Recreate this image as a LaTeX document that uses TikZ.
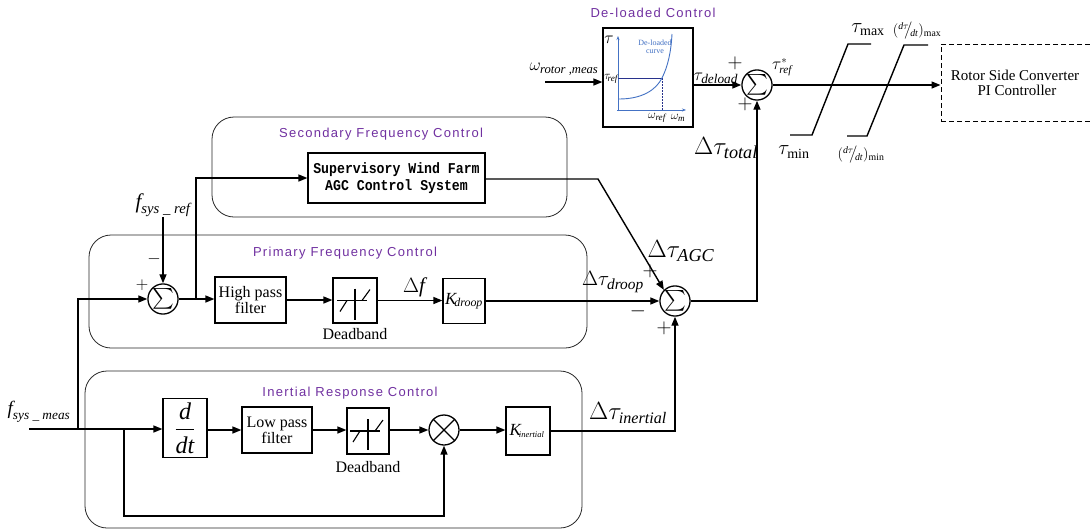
\documentclass[tikz,border=0pt]{standalone}
\usepackage{amsmath}
\usepackage{graphicx}
\usepackage{fontspec}
\setmainfont{Liberation Serif}
\newfontfamily\ttlfont[LetterSpace=10]{Liberation Sans}
\newfontfamily\supfont{Liberation Mono}
\usetikzlibrary{arrows.meta,calc}
\definecolor{ttlpurple}{RGB}{112,48,160}
\definecolor{crvblue}{RGB}{68,114,196}
\definecolor{refblue}{RGB}{40,50,140}
\newcommand{\fsz}[1]{\fontsize{#1}{#1}\selectfont}
\newcommand{\tx}[1]{\text{\itshape #1}}
\newcommand{\rx}[1]{\text{\upshape #1}}
\tikzset{
 arr/.style={line width=1.4pt,-{Triangle[length=9pt,width=7pt]}},
 ln/.style={line width=1.4pt},
 blk/.style={draw,line width=1.2pt,align=center,inner sep=0pt,font=\fsz{16}},
 sumc/.style={draw,circle,line width=1.3pt,minimum size=28pt,inner sep=0pt},
 grp/.style={draw=black!85,line width=0.8pt,rounded corners=22pt},
 ttl/.style={text=ttlpurple,font=\ttlfont\fsz{13}},
 lbl/.style={inner sep=0pt},
 dbsym/.pic={
   \draw[line width=1.1pt] (0,-12) -- (0,19);
   \draw[line width=1.1pt] (-18,0) -- (12,0);
   \draw[line width=1.1pt] (-15,11) -- (-8,0);
   \draw[line width=1.1pt] (7,0) -- (15,-11);
 }
}
\begin{document}
\begin{tikzpicture}[x=1pt,y=-1pt]
\useasboundingbox (0,0) rectangle (1090,531);

% group boxes
\node[grp,minimum width=355,minimum height=100] (secg) at (389.5,167) {};
\node[grp,minimum width=498,minimum height=113] (prig) at (338,291.5) {};
\node[grp,minimum width=497,minimum height=157] (inrg) at (333.5,449.5) {};
\node[ttl] (sect) at (381,134) {Secondary Frequency Control};
\node[ttl] (prit) at (345,253) {Primary Frequency Control};
\node[ttl] (inrt) at (350,393) {Inertial Response Control};
\node[ttl] (dlt) at (653,13) {De-loaded Control};

% de-loaded block
\node[draw,line width=1.2pt,minimum width=90,minimum height=99,fill=white] (dl) at (648,77.5) {};
\draw[crvblue,line width=0.9pt,-{Stealth[length=4pt,width=3pt]}] (618,111) -- (618,36);
\draw[crvblue,line width=0.9pt,-{Stealth[length=4pt,width=3pt]}] (617,110) -- (686,110);
\draw[refblue,line width=0.8pt] (618,78) -- (662,78);
\draw[refblue,line width=0.8pt,dashed,dash pattern=on 2pt off 1pt] (662,78) -- (662,110);
\draw[crvblue,line width=0.9pt] (619,99) .. controls (642,99) and (656,90) .. (662,78) .. controls (668,66) and (671,52) .. (672,34);
\node[lbl,text=crvblue,font=\fsz{8},align=center] (dlc) at (655,47) {De-loaded\\curve};
\node[lbl,font=\fsz{16}] (dltau) at (609,40) {$\tau$};
\node[lbl,font=\fsz{13}] (dltref) at (611,79) {$\tau_{\!\tx{ref}}$};
\node[lbl,font=\fsz{13}] (dlwref) at (657,118) {$\omega_{\tx{ref}}$};
\node[lbl,font=\fsz{13}] (dlwm) at (678,118) {$\omega_{\tx{m}}$};

% sums and blocks
\node[sumc,font=\fsz{21}] (s1) at (757,85) {$\textstyle\sum$};
\node[sumc,font=\fsz{21}] (s2) at (675,301) {$\textstyle\sum$};
\node[sumc,font=\fsz{21}] (s0) at (163,299) {$\textstyle\sum$};
\node[draw,line width=1pt,dash pattern=on 5pt off 3pt,minimum width=152,minimum height=77,align=center,font=\rmfamily\fsz{15},inner xsep=0pt] (rsc) at (1017,82.5) {\hspace*{-4pt}Rotor Side Converter\\PI Controller};
\node[blk,minimum width=177,minimum height=50,font=\supfont\bfseries\fsz{15}] (sup) at (396.5,178) {\scalebox{0.88}[1]{Supervisory Wind Farm}\\[2pt]\scalebox{0.88}[1]{AGC Control System}};
\node[blk,minimum width=71,minimum height=46] (hpf) at (250.5,300) {High pass\\filter};
\node[blk,minimum width=44,minimum height=45] (db1) at (355,300.5) {};
\node[blk,minimum width=42,minimum height=45,font=\fsz{17}] (kd) at (464,301) {$\tx{K}_{\!\tx{droop}}$};
\node[blk,minimum width=44,minimum height=59,font=\fsz{24}] (ddt) at (185,428) {$\dfrac{\tx{d}}{\tx{dt}}$};
\node[blk,minimum width=70,minimum height=46] (lpf) at (277,430) {Low pass\\filter};
\node[blk,minimum width=42,minimum height=46] (db2) at (368,431) {};
\node[sumc,minimum size=30pt] (mlt) at (444,430) {};
\draw[line width=1.2pt] (mlt.north west) -- (mlt.south east);
\draw[line width=1.2pt] (mlt.north east) -- (mlt.south west);
\node[blk,minimum width=44,minimum height=48,font=\fsz{17}] (ki) at (528,431) {\hspace*{-2pt}$\tx{K}_{\!\scriptscriptstyle\tx{inertial}}$};
\pic at (db1.center) {dbsym};
\pic at (db2.center) {dbsym};
\node[lbl,font=\fsz{16}] (dbl1) at (355,334) {Deadband};
\node[lbl,font=\fsz{16}] (dbl2) at (368,467) {Deadband};

% labels
\node[lbl,font=\fsz{18}] (wrm) at (564,69) {$\omega_{\tx{rotor ,meas}}$};
\node[lbl,font=\fsz{19}] (tdl) at (716,78) {$\tau_{\tx{deload}}$};
\node[lbl,font=\fsz{16}] (tref) at (782,67) {$\tau^{*}_{\tx{ref}}$};
\node[lbl,font=\fsz{26}] (ttot) at (726,148) {$\Delta\tau_{\tx{total}}$};
\node[lbl,font=\fsz{26}] (tagc) at (681,251) {$\Delta\tau_{\tx{AGC}}$};
\node[lbl,font=\fsz{22}] (tdr) at (613,282) {$\Delta\tau_{\tx{droop}}$};
\node[lbl,font=\fsz{23}] (tin) at (628,413) {$\Delta\tau_{\tx{inertial}}$};
\node[lbl,font=\fsz{21}] (fref) at (163,205) {$\tx{f}_{\tx{sys \_ ref}}$};
\node[lbl,font=\fsz{19}] (fmeas) at (39,412) {$\tx{f}_{\tx{sys \_ meas}}$};
\node[lbl,font=\fsz{21}] (df) at (414,287) {$\Delta \tx{f}$};
\node[lbl,font=\fsz{20}] (tmax) at (868,30) {$\tau_{\rx{max}}$};
\node[lbl,font=\fsz{20}] (tmin) at (794,152) {$\tau_{\rx{min}}$};
\node[lbl,font=\fsz{14}] (dmax) at (917,31) {$({}^{\tx{d}\tau}\!\!\big/\!{}_{\tx{dt}})_{\rx{max}}$};
\node[lbl,font=\fsz{14}] (dmin) at (861,155) {$({}^{\tx{d}\tau}\!\!\big/\!{}_{\tx{dt}})_{\rx{min}}$};

% signs
\node[lbl,font=\fsz{22}] (p1) at (735,63) {$+$};
\node[lbl,font=\fsz{22}] (p2) at (745,104) {$+$};
\node[lbl,font=\fsz{16}] (p3) at (142,285) {$+$};
\node[lbl,font=\fsz{16}] (m3) at (154,259) {$-$};
\node[lbl,font=\fsz{20}] (p4) at (650,271) {$+$};
\node[lbl,font=\fsz{20}] (m4) at (638,311) {$-$};
\node[lbl,font=\fsz{20}] (p5) at (664,328) {$+$};

% saturation blocks
\draw[ln] (790,135) -- (812,135) -- (848,44) -- (871,44);
\draw[ln] (847,136) -- (867,136) -- (904,45) -- (928,45);

% connectors
\coordinate (win) at (545,82);
\draw[arr] (win) -- (win -| dl.west);
\draw[arr] (dl.east |- s1) -- (s1.west);
\draw[arr] (s1.east) -- (s1 -| rsc.west);
\draw[arr] (s2.east) -| (s1.south);
\coordinate (agcb) at (598,179);
\draw[arr] (sup.east |- agcb) -- (agcb) -- (s2.north west);
\draw[arr] (kd.east |- s2) -- (s2.west);
\draw[arr] (ki.east) -| (s2.south);
\draw[arr] (fref.south) -- (s0.north);
\coordinate (fin) at (29,429);
\draw[arr] (fin) -- (fin -| ddt.west);
\coordinate (b1) at (78,429);
\draw[arr] (b1) |- (s0.west);
\draw[arr] (s0.east) -- (s0 -| hpf.west);
\coordinate (b2) at (196,299);
\draw[arr] (b2) |- (sup.west);
\draw[arr] (hpf.east) -- (hpf.east -| db1.west);
\draw[arr] (db1.east) -- (db1.east -| kd.west);
\draw[arr] (ddt.east |- lpf) -- (lpf.west);
\draw[arr] (lpf.east) -- (lpf.east -| db2.west);
\draw[arr] (db2.east |- mlt) -- (mlt.west);
\draw[arr] (mlt.east) -- (mlt.east -| ki.west);
\coordinate (b3) at (124,429);
\coordinate (b3d) at (124,516);
\draw[arr] (b3) -- (b3d) -| (mlt.south);
\end{tikzpicture}
\end{document}
